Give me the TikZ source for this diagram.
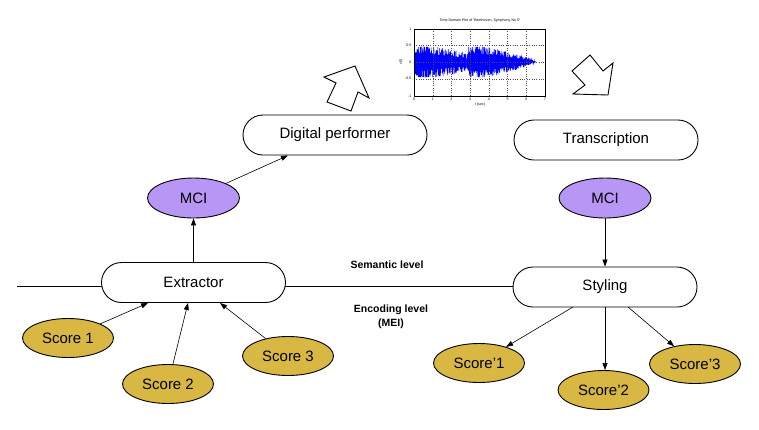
\documentclass[tikz,border=0pt]{standalone}
\usepackage{fontspec}
\setmainfont{Liberation Sans}
\usetikzlibrary{shapes.geometric,shapes.misc,arrows.meta}
\definecolor{gold}{RGB}{216,184,66}
\definecolor{mcipurple}{RGB}{184,150,246}
\definecolor{sigblue}{RGB}{0,0,255}
\begin{document}
\begin{tikzpicture}[x=1pt,y=-1pt,
  pill/.style={draw, line width=0.9pt, rounded rectangle, minimum width=184pt, minimum height=40pt, inner sep=0pt, font=\fontsize{15}{18}\selectfont},
  scorenode/.style={draw, line width=0.9pt, ellipse, fill=gold, minimum width=91pt, minimum height=39pt, inner sep=0pt, font=\fontsize{15}{18}\selectfont},
  mcinode/.style={draw, line width=0.9pt, ellipse, fill=mcipurple, minimum width=92pt, minimum height=40pt, inner sep=0pt, font=\fontsize{15}{18}\selectfont},
  conn/.style={line width=0.6pt, -{Triangle[length=7pt,width=5pt]}},
  blockarrow/.style={draw, line width=0.9pt, fill=white, line join=miter},
  levellabel/.style={font=\fontsize{10.5}{14}\selectfont\bfseries, align=center},
  tiny/.style={font=\fontsize{3.6}{4.2}\selectfont, inner sep=0.5pt},
  gridline/.style={dotted, line width=0.35pt, black!70}
]
\useasboundingbox (0,0) rectangle (759,429);

% ---- time-domain plot ----
\pgfmathsetseed{11}
% solid core of the signal
\fill[sigblue] plot[samples=120, domain=0:2.8, variable=\t]
  ({414+18.71*\t},{62-16.7*0.58*(1-exp(-\t/0.07))*(1-0.2*\t)})
  -- plot[samples=120, domain=2.8:0, variable=\t]
  ({414+18.71*\t},{62+16.7*0.58*(1-exp(-\t/0.07))*(1-0.2*\t)}) -- cycle;
\fill[sigblue] plot[samples=160, domain=2.8:6.5, variable=\t]
  ({414+18.71*\t},{62-16.7*0.6*(1-exp(-(\t-2.8)/0.06))*pow(max(0.0001,(6.5-\t)/3.7),0.75)})
  -- plot[samples=160, domain=6.5:2.8, variable=\t]
  ({414+18.71*\t},{62+16.7*0.6*(1-exp(-(\t-2.8)/0.06))*pow(max(0.0001,(6.5-\t)/3.7),0.75)}) -- cycle;
% spiky outer part
\draw[sigblue, line width=0.45pt] plot[samples=500, domain=0:2.8, variable=\t]
  ({414+18.71*\t},{62-16.7*min(0.9,max(-0.9,rand*1.25*(1-exp(-\t/0.07))*(1-0.2*\t)))});
\draw[sigblue, line width=0.45pt] plot[samples=650, domain=2.8:6.5, variable=\t]
  ({414+18.71*\t},{62-16.7*min(0.9,max(-0.9,rand*1.2*(1-exp(-(\t-2.8)/0.06))*pow(max(0.0001,(6.5-\t)/3.7),0.75)))});
\foreach \k in {1,...,6} {
  \draw[gridline] ({414+18.71*\k},29) -- ({414+18.71*\k},96);
}
\foreach \yy in {45.3,62,78.7} {
  \draw[gridline] (414,\yy) -- (545,\yy);
}
\draw[line width=0.35pt] (414,29) rectangle (545,96);
\foreach \k in {0,...,7} {
  \node[tiny, anchor=north] (xt\k) at ({414+18.71*\k},97.5) {\k};
}
\node[tiny, anchor=east] (yt1) at (412,29) {1};
\node[tiny, anchor=east] (yt2) at (412,45.3) {0.5};
\node[tiny, anchor=east] (yt3) at (412,62) {0};
\node[tiny, anchor=east] (yt4) at (412,78.7) {-0.5};
\node[tiny, anchor=east] (yt5) at (412,96) {-1};
\node[tiny] (ptitle) at (480,21) {Time Domain Plot of "Beethoven, Symphony No 5"};
\node[tiny] (pxlabel) at (480,105) {t [sec]};
\node[tiny, rotate=90] (pylabel) at (401,62) {x(t)};

% ---- block arrows ----
\draw[blockarrow] (355,66) -- (324,77) -- (336,83) -- (327,102) -- (351,111) -- (358,92) -- (369,98) -- cycle;
\draw[blockarrow] (590,55) -- (603,71) -- (613,63) -- (608,95) -- (573,94) -- (585,85) -- (572,71) -- cycle;

% ---- level line ----
\coordinate (lstart) at (17,286.5);
\coordinate (lend) at (513,286.5);
\draw[line width=0.6pt] (lstart) -- (lend);
\node[levellabel] (sem) at (387,265) {Semantic level};
\node[levellabel] (enc) at (391,316.5) {Encoding level\\(MEI)};

% ---- nodes ----
\node[pill, fill=white] (perf) at (335,135) {Digital performer};
\node[pill, fill=white] (trans) at (606,140) {Transcription};
\node[pill, fill=white] (ext) at (193.5,282.5) {Extractor};
\node[pill, fill=white] (sty) at (605,287) {Styling};
\node[mcinode] (mcil) at (193.5,198) {MCI};
\node[mcinode] (mcir) at (605,198) {MCI};
\node[scorenode] (s1) at (68,338) {Score 1};
\node[scorenode] (s2) at (168,384) {Score 2};
\node[scorenode] (s3) at (288,356) {Score 3};
\node[scorenode] (p1) at (479,363) {Score’1};
\node[scorenode] (p2) at (603.5,390) {Score’2};
\node[scorenode] (p3) at (695,364) {Score’3};

% ---- connectors ----
\coordinate (e1) at (148,303);
\coordinate (e2) at (188,303);
\coordinate (e3) at (220,303);
\coordinate (d1) at (288,155.5);
\coordinate (st1) at (573,307);
\coordinate (st2) at (605,307);
\coordinate (st3) at (628,307);
\draw[conn] (s1) -- (e1);
\draw[conn] (s2) -- (e2);
\draw[conn] (s3) -- (e3);
\draw[conn] (ext) -- (mcil);
\draw[conn] (mcil) -- (d1);
\draw[conn] (mcir) -- (sty);
\draw[conn] (st1) -- (p1);
\draw[conn] (st2) -- (st2 |- p2.north);
\draw[conn] (st3) -- (p3);
\end{tikzpicture}
\end{document}
